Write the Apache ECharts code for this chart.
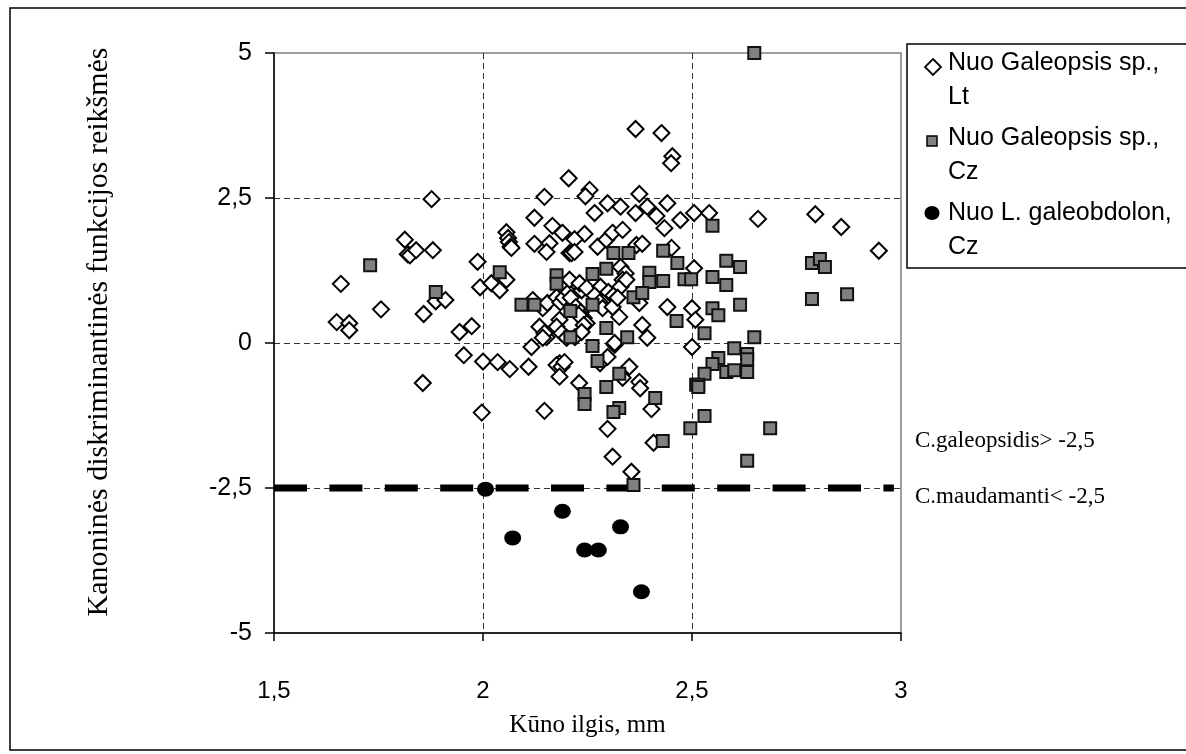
<!DOCTYPE html>
<html><head><meta charset="utf-8">
<script src="https://cdn.jsdelivr.net/npm/echarts@6/dist/echarts.min.js"></script>
<style>html,body{margin:0;padding:0;background:#fff}#c{width:1186px;height:754px}</style>
</head><body><div id="c"></div>
<script>
const seriesNames = ['Nuo Galeopsis sp., Lt', 'Nuo Galeopsis sp., Cz', 'Nuo L. galeobdolon, Cz'];
const legendLines = [['Nuo Galeopsis sp.,', 'Lt'], ['Nuo Galeopsis sp.,', 'Cz'], ['Nuo L. galeobdolon,', 'Cz']];
const xTitle = 'Kūno ilgis, mm';
const yTitle = 'Kanoninės diskriminantinės funkcijos reikšmės';
const noteTexts = ['C.galeopsidis> -2,5', 'C.maudamanti< -2,5'];
const thresholdValue = -2.5;
const thresholdX = [1.5, 2.983];

const ltPoints = [
 [1.65,0.36],[1.68,0.34],[1.68,0.22],[1.66,1.02],[1.756,0.58],[1.813,1.78],[1.82,1.53],[1.825,1.51],[1.84,1.6],[1.88,1.6],
 [1.877,2.48],[1.858,0.5],[1.887,0.72],[1.91,0.74],[1.944,0.19],[1.973,0.29],[1.954,-0.21],[2.0,-0.32],[1.856,-0.69],[1.997,-1.2],
 [1.987,1.4],[1.993,0.96],[2.02,1.03],[2.056,1.09],[2.04,0.91],[2.116,-0.07],[2.152,0.1],[2.035,-0.33],[2.064,-0.45],[2.109,-0.41],
 [2.183,-0.35],[2.176,-0.38],[2.188,-0.41],[2.195,-0.33],[2.183,-0.58],[2.23,-0.69],[2.147,-1.17],[2.298,-1.48],[2.31,-1.96],[2.355,-2.22],
 [2.315,-0.03],[2.28,-0.35],[2.298,-0.24],[2.35,-0.41],[2.334,-0.6],[2.374,-0.67],[2.376,-0.78],[2.403,-1.14],[2.408,-1.72],[2.393,0.09],
 [2.5,-0.07],[2.22,0.1],[2.365,3.69],[2.427,3.62],[2.453,3.22],[2.45,3.1],[2.205,2.84],[2.255,2.64],[2.245,2.53],[2.147,2.52],
 [2.298,2.41],[2.329,2.35],[2.374,2.57],[2.393,2.35],[2.441,2.41],[2.267,2.24],[2.365,2.24],[2.415,2.19],[2.472,2.12],[2.505,2.24],
 [2.541,2.24],[2.658,2.14],[2.795,2.22],[2.857,2.0],[2.947,1.59],[2.123,2.16],[2.166,2.02],[2.19,1.9],[2.243,1.88],[2.219,1.79],
 [2.056,1.91],[2.06,1.81],[2.062,1.74],[2.066,1.66],[2.068,1.64],[2.123,1.71],[2.159,1.72],[2.152,1.57],[2.207,1.55],[2.212,1.55],
 [2.219,1.57],[2.274,1.66],[2.295,1.78],[2.31,1.9],[2.334,1.95],[2.367,1.69],[2.381,1.71],[2.434,1.98],[2.451,1.64],[2.505,1.29],
 [2.5,0.6],[2.508,0.4],[2.119,0.74],[2.143,0.6],[2.154,0.69],[2.176,0.79],[2.185,0.7],[2.193,0.78],[2.205,0.88],[2.207,1.09],
 [2.183,0.4],[2.135,0.28],[2.147,0.17],[2.143,0.09],[2.236,0.91],[2.231,1.03],[2.21,0.78],[2.222,0.62],[2.234,0.53],[2.241,0.43],
 [2.248,0.34],[2.176,0.28],[2.188,0.17],[2.2,0.09],[2.329,1.31],[2.341,1.2],[2.334,1.09],[2.248,0.95],[2.281,0.97],[2.3,0.88],
 [2.312,0.82],[2.329,0.97],[2.343,1.09],[2.267,0.82],[2.279,0.7],[2.286,0.6],[2.31,0.62],[2.326,0.45],[2.322,0.78],[2.374,0.69],
 [2.441,0.62],[2.229,0.48],[2.241,0.31],[2.236,0.19],[2.381,0.31],[2.315,0.0]
];
const czPoints = [
 [1.73,1.34],[1.887,0.88],[2.04,1.22],[2.176,1.17],[2.176,1.02],[2.262,1.19],[2.295,1.28],[2.312,1.55],[2.348,1.55],[2.431,1.59],
 [2.465,1.38],[2.398,1.21],[2.398,1.05],[2.431,1.07],[2.482,1.1],[2.498,1.1],[2.092,0.66],[2.123,0.66],[2.209,0.55],[2.262,0.66],
 [2.36,0.79],[2.381,0.86],[2.463,0.38],[2.295,0.26],[2.209,0.1],[2.345,0.1],[2.262,-0.05],[2.274,-0.31],[2.326,-0.53],[2.295,-0.76],
 [2.243,-0.88],[2.243,-1.05],[2.326,-1.12],[2.312,-1.19],[2.412,-0.95],[2.43,-1.69],[2.496,-1.47],[2.36,-2.45],[2.51,-0.72],[2.53,0.17],
 [2.649,0.1],[2.601,-0.09],[2.632,-0.19],[2.632,-0.28],[2.563,-0.26],[2.549,-0.36],[2.582,-0.5],[2.601,-0.47],[2.632,-0.5],[2.53,-0.53],
 [2.515,-0.72],[2.515,-0.76],[2.53,-1.26],[2.687,-1.47],[2.632,-2.03],[2.649,5.0],[2.549,2.02],[2.582,1.42],[2.615,1.31],[2.549,1.14],
 [2.582,1.0],[2.615,0.66],[2.549,0.6],[2.563,0.48],[2.787,1.38],[2.806,1.45],[2.818,1.31],[2.787,0.76],[2.871,0.84]
];
const lgPoints = [
 [2.006,-2.52],[2.071,-3.36],[2.19,-2.9],[2.243,-3.57],[2.276,-3.57],[2.329,-3.17],[2.379,-4.29]
];

const fmt = v => String(v).replace('.', ',');
const chart = echarts.init(document.getElementById('c'));

const legendGraphics = [];
legendGraphics.push({type:'rect', shape:{x:907, y:44, width:300, height:224}, style:{fill:'#fff', stroke:'#000', lineWidth:1.5}, z:10});
const legendY = [63, 138, 213];
const legendSym = [
  {type:'polygon', shape:{points:[[933,59],[941,67],[933,75],[925,67]]}, style:{fill:'#fff', stroke:'#000', lineWidth:1.8}},
  {type:'rect', shape:{x:927, y:136, width:10, height:10}, style:{fill:'#808080', stroke:'#000', lineWidth:1.5}},
  {type:'ellipse', shape:{cx:932, cy:213, rx:7.5, ry:7}, style:{fill:'#000'}}
];
legendSym.forEach(s => { s.z = 11; legendGraphics.push(s); });
legendLines.forEach((ln, i) => {
  ln.forEach((t, j) => {
    legendGraphics.push({type:'text', x:948, y:legendY[i] + j*34, z:11,
      style:{text:t, font:'25px "Liberation Sans", Arial, sans-serif', fill:'#000', verticalAlign:'middle'}});
  });
});

chart.setOption({
  animation: false,
  backgroundColor: '#fff',
  grid: {left:274, top:53, width:627, height:580, show:true, borderColor:'#808080', borderWidth:1.5, backgroundColor:'transparent'},
  xAxis: {
    type:'value', min:1.5, max:3, interval:0.5,
    name: xTitle, nameLocation:'middle', nameGap:80,
    nameTextStyle:{fontFamily:'"Liberation Serif", "Times New Roman", serif', fontSize:25, color:'#000'},
    axisLine:{show:true, onZero:false, lineStyle:{color:'#000', width:1.5}},
    axisTick:{show:true, inside:false, length:8, lineStyle:{color:'#000', width:1.5}},
    axisLabel:{margin:46, fontFamily:'"Liberation Sans", Arial, sans-serif', fontSize:24, color:'#000', formatter: fmt},
    splitLine:{show:true, showMinLine:false, showMaxLine:false, lineStyle:{color:'#333', width:1, type:[6,4]}}
  },
  yAxis: {
    type:'value', min:-5, max:5, interval:2.5,
    name: yTitle, nameLocation:'middle', nameGap:160, nameRotate:90,
    nameTextStyle:{fontFamily:'"Liberation Serif", "Times New Roman", serif', fontSize:30, color:'#000', padding:[0,0,0,22]},
    axisLine:{show:true, onZero:false, lineStyle:{color:'#000', width:1.5}},
    axisTick:{show:true, inside:false, length:9, lineStyle:{color:'#000', width:1.5}},
    axisLabel:{margin:22, fontFamily:'"Liberation Sans", Arial, sans-serif', fontSize:25, color:'#000', formatter: fmt},
    splitLine:{show:true, showMinLine:false, showMaxLine:false, lineStyle:{color:'#333', width:1, type:[6,4]}}
  },
  series: [
    {name:'threshold', type:'line', data: thresholdX.map(x => [x, thresholdValue]), symbol:'none', silent:true, z:1,
     lineStyle:{color:'#000', width:7, type:[33,22.4], cap:'butt'}},
    {name: seriesNames[0], type:'scatter', data: ltPoints, symbol:'diamond', symbolSize:[16,16], z:2,
     itemStyle:{color:'#fff', borderColor:'#000', borderWidth:2, opacity:1}},
    {name: seriesNames[1], type:'scatter', data: czPoints, symbol:'rect', symbolSize:12, z:3,
     itemStyle:{color:'#808080', borderColor:'#111', borderWidth:2, opacity:1}},
    {name: seriesNames[2], type:'scatter', data: lgPoints, symbol:'circle', symbolSize:[17,15], z:4,
     itemStyle:{color:'#000', opacity:1}}
  ],
  graphic: [
    {type:'rect', shape:{x:10, y:8, width:1200, height:742}, style:{fill:'none', stroke:'#000', lineWidth:1.5}, z:0, silent:true},
    {type:'text', x:915, y:441, style:{text:noteTexts[0], font:'23px "Liberation Serif", "Times New Roman", serif', fill:'#000', verticalAlign:'middle'}},
    {type:'text', x:915, y:497, style:{text:noteTexts[1], font:'23px "Liberation Serif", "Times New Roman", serif', fill:'#000', verticalAlign:'middle'}}
  ].concat(legendGraphics)
});
</script>
</body></html>
